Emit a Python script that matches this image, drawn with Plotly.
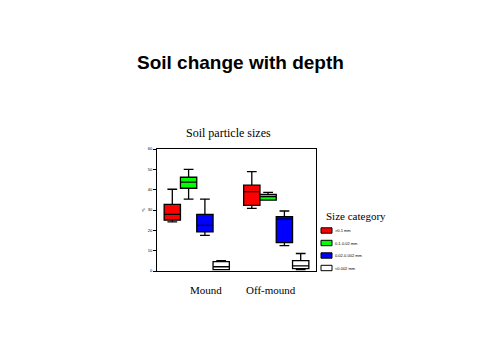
import plotly.graph_objects as go

locations = ["Mound", "Off-mound"]
size_categories = [">0.1 mm", "0.1-0.02 mm", "0.02-0.002 mm", "<0.002 mm"]
colors = ["#FF0000", "#00FF00", "#0000FF", "#FFFFFF"]

lower = [[24.2, 30.8], [35.3, 34.9], [17.5, 12.5], [0.7, 0.7]]
q1 = [[25.0, 32.3], [40.7, 34.9], [19.3, 14.0], [0.7, 1.2]]
median = [[27.8, 39.0], [43.7, 36.6], [22.4, 25.5], [2.1, 2.5]]
q3 = [[32.8, 42.2], [46.1, 37.7], [27.8, 26.7], [4.6, 5.1]]
upper = [[40.2, 48.9], [50.0, 38.7], [35.3, 29.5], [5.1, 8.6]]

y_ticks = [0, 10, 20, 30, 40, 50, 60]

fig = go.Figure()
for i, cat in enumerate(size_categories):
    fig.add_trace(go.Box(
        name=cat,
        x=locations,
        q1=q1[i], median=median[i], q3=q3[i],
        lowerfence=lower[i], upperfence=upper[i],
        fillcolor=colors[i],
        line=dict(color="black", width=1.3),
        whiskerwidth=0.6,
        boxpoints=False,
        showlegend=False,
    ))

# page content is offset by the 8px body margin; plot area target on screen: x 157-316, y 149-271
fig.update_layout(
    width=480, height=360, autosize=False,
    paper_bgcolor="white", plot_bgcolor="white",
    margin=dict(l=149, r=172, t=141, b=97, autoexpand=False),
    boxmode="group", boxgap=0.18, boxgroupgap=0.0,
    showlegend=False,
    font=dict(family="Liberation Serif", color="black"),
)
fig.update_xaxes(showline=True, linecolor="black", linewidth=1, mirror=True,
                 showticklabels=False, ticks="", showgrid=False)
fig.update_yaxes(range=[0, 60], tickvals=y_ticks, showline=True, linecolor="black",
                 linewidth=1, mirror=True, ticks="outside", ticklen=3, tickcolor="black",
                 tickfont=dict(size=4, family="Liberation Sans", color="black"),
                 showgrid=False, zeroline=False,
                 title=dict(text="%", font=dict(size=4), standoff=2))


def px_x(X):
    return (X - 157) / 159


def px_y(Y):
    return (271 - Y) / 122


fig.add_annotation(text="<b>Soil change with depth</b>", xref="paper", yref="paper",
                   x=px_x(240), y=px_y(62), xanchor="center", yanchor="middle", showarrow=False,
                   font=dict(family="Liberation Sans", size=19, color="black"))
fig.add_annotation(text="Soil particle sizes", xref="paper", yref="paper",
                   x=px_x(228), y=px_y(133), xanchor="center", yanchor="middle", showarrow=False,
                   font=dict(family="Liberation Serif", size=12, color="black"))
for loc, shift in zip(locations, [9, -5]):
    fig.add_annotation(text=loc, x=loc, xref="x", yref="paper", y=px_y(290),
                       yanchor="middle", xshift=shift, showarrow=False,
                       font=dict(family="Liberation Serif", size=11, color="black"))

# legend drawn manually
fig.add_annotation(text="Size category", xref="paper", yref="paper",
                   x=px_x(324), y=px_y(216), xanchor="left", yanchor="middle", showarrow=False,
                   font=dict(family="Liberation Serif", size=11, color="black"))
legend_y = [230.5, 243, 255.5, 268]
for i, cat in enumerate(size_categories):
    yc = legend_y[i]
    fig.add_shape(type="rect", xref="paper", yref="paper",
                  x0=px_x(321), x1=px_x(332), y0=px_y(yc + 2.7), y1=px_y(yc - 2.7),
                  fillcolor=colors[i], line=dict(color="black", width=1))
    fig.add_annotation(text=cat, xref="paper", yref="paper",
                       x=px_x(333), y=px_y(yc), xanchor="left", yanchor="middle", showarrow=False,
                       font=dict(family="Liberation Sans", size=4, color="black"))

fig.write_html("out.html")
